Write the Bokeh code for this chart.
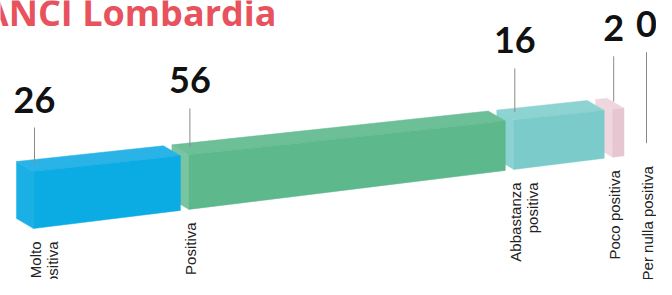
import math
from bokeh.plotting import figure
from bokeh.models import Range1d
from bokeh.embed import file_html
from bokeh.resources import INLINE
from bokeh.core.properties import value

# ---- data ----
title = "ANCI Lombardia"
categories = ["Molto\npositiva", "Positiva", "Abbastanza\npositiva", "Poco positiva", "Per nulla positiva"]
values = [26, 56, 16, 2, 0]
value_labels = ["26", "56", "16", "2", "0"]

# ---- styles ----
front_colors = ["#0aace3", "#5db98b", "#7acbc9", "#e6c6d1", "#e6c6d1"]
top_colors = ["#2ab3e7", "#6cbf97", "#8dd3d2", "#eed5de", "#eed5de"]
side_colors = ["#1bb0e5", "#79c4a1", "#8bd2d2", "#efd6df", "#efd6df"]
TITLE_COLOR = "#e8525d"

# ---- layout constants (pixel-like plot coordinates) ----
W, H = 656, 279
X0 = 33.0      # left of first bar
K = 5.65       # px per unit of value
GAP = 8.5      # gap between bars
ZERO_PAD = 13  # extra room for an empty category
BASE0, SLOPE = 228.0, 0.123
H0, HS = 57.0, 0.016
DX, DY = -17.0, -10.0
TXT_FIX = 13   # baseline correction for horizontal texts


def base_y(x):
    return BASE0 - SLOPE * (x - X0)


def top_y(x):
    return base_y(x) - (H0 - HS * (x - X0))


p = figure(width=W, height=H, output_backend="svg", toolbar_location=None,
           x_range=Range1d(0, W), y_range=Range1d(H, 0),
           min_border=0)
p.axis.visible = False
p.grid.visible = False
p.outline_line_color = None
p.background_fill_color = "white"
p.border_fill_color = "white"

# positions
lefts, rights = [], []
cum = 0.0
for i, v in enumerate(values):
    xl = X0 + K * cum + GAP * i + (ZERO_PAD if v == 0 else 0)
    lefts.append(xl)
    rights.append(xl + K * v)
    cum += v

# boxes, drawn right to left so nearer (left) boxes overlap
for i in reversed(range(len(values))):
    if values[i] <= 0:
        continue
    xl, xr = lefts[i], rights[i]
    tl, tr = top_y(xl), top_y(xr)
    bl, br = base_y(xl), base_y(xr)
    # left side face
    p.patch([xl, xl + DX, xl + DX, xl], [tl, tl + DY, bl + DY, bl],
            fill_color=side_colors[i], line_color=side_colors[i], line_width=0.5)
    # top face
    p.patch([xl, xr, xr + DX, xl + DX], [tl, tr, tr + DY, tl + DY],
            fill_color=top_colors[i], line_color=top_colors[i], line_width=0.5)
    # front face
    p.patch([xl, xr, xr, xl], [tl, tr, br, bl],
            fill_color=front_colors[i], line_color=front_colors[i], line_width=0.5)

# value labels and leader lines
for i, v in enumerate(values):
    xl = lefts[i]
    nx = xl + 1
    ny = base_y(xl) - 116
    p.text(x=[nx], y=[ny - TXT_FIX], text=[value_labels[i]], text_align="center",
           text_baseline="alphabetic", text_font=value("Lato"),
           text_font_style="bold", text_font_size="36px", text_color="#111111")
    y_end = top_y(xl) - 8 if v > 0 else base_y(xl) - 10
    p.line([nx, nx], [ny + 15, y_end], line_color="#8a8a8a", line_width=1)

# category labels (rotated)
for i, c in enumerate(categories):
    xl = lefts[i]
    p.text(x=[xl - 7], y=[base_y(xl) + 13], text=[c], angle=math.pi / 2,
           text_align="right", text_baseline="top", text_line_height=1.0,
           text_font=value("Liberation Sans"), text_font_size="15px",
           text_color="#222222")

# title
p.text(x=[276], y=[25 - TXT_FIX], text=[title], text_align="right", text_baseline="alphabetic",
       text_font=value("Open Sans"), text_font_style="bold", text_font_size="36px",
       text_color=TITLE_COLOR)

open("out.html", "w").write(file_html(p, INLINE))
